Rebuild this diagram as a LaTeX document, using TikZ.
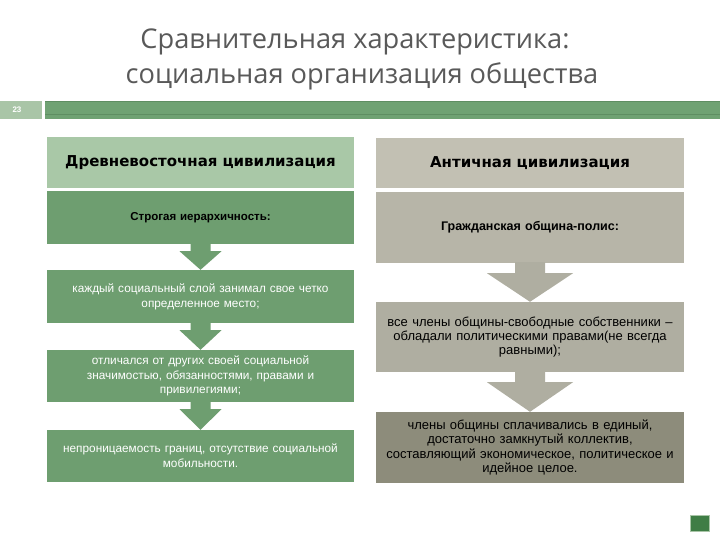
\documentclass[tikz,border=0pt]{standalone}
\usepackage{fontspec}
\setmainfont{Liberation Sans}
\newfontfamily\titlefont{Open Sans}
\newfontfamily\headfont{DejaVu Sans}
\usetikzlibrary{calc}
\definecolor{titlegrey}{HTML}{595959}
\definecolor{barlight}{HTML}{A9C5A7}
\definecolor{bargreen}{HTML}{6FA273}
\definecolor{bardark}{HTML}{5E8E62}
\definecolor{lhead}{HTML}{A9C8A7}
\definecolor{lbox}{HTML}{6E9E70}
\definecolor{rhead}{HTML}{C2C0B3}
\definecolor{rboxa}{HTML}{B7B5A8}
\definecolor{rboxb}{HTML}{AFAEA1}
\definecolor{rboxc}{HTML}{8D8C7B}
\definecolor{rarrow}{HTML}{AFAEA1}
\definecolor{icongreen}{HTML}{3F7D45}
\tikzset{
  colbox/.style={rectangle, inner sep=2pt, align=center, text width=300pt},
  lcol/.style={colbox, minimum width=307pt, fill=lbox, text=white, font=\fontsize{11.8}{14.8}\selectfont},
  rcol/.style={colbox, minimum width=308pt, font=\fontsize{13}{14.2}\selectfont},
  headtext/.style={font=\headfont\bfseries\fontsize{15}{18}\selectfont},
  titletext/.style={text=titlegrey, font=\titlefont\fontsize{27.2}{32}\selectfont, anchor=base, inner sep=0pt},
  larrowfill/.style={fill=lbox},
  rarrowfill/.style={fill=rarrow}
}
\newcommand\leftarr[2]{%
  \fill[larrowfill] ($(#1.south)+(-10,-1)$) -- ($(#1.south)+(-10,7)$) -- ($(#1.south)+(-21,7)$) -- (#2.north)
    -- ($(#1.south)+(21,7)$) -- ($(#1.south)+(10,7)$) -- ($(#1.south)+(10,-1)$) -- cycle;}
\newcommand\rightarr[2]{%
  \fill[rarrowfill] ($(#1.south)+(-15,-1)$) -- ($(#1.south)+(-15,10)$) -- ($(#1.south)+(-43,10)$) -- (#2.north)
    -- ($(#1.south)+(43,10)$) -- ($(#1.south)+(15,10)$) -- ($(#1.south)+(15,-1)$) -- cycle;}
\begin{document}
\begin{tikzpicture}[x=1pt,y=-1pt]
\useasboundingbox[fill=white] (0,0) rectangle (720,540);
% title
\node[titletext] (t1) at (355,49) {Сравнительная характеристика:};
\node[titletext] (t2) at (362,84) {социальная организация общества};
% bar
\fill[barlight] (0,101) rectangle (42,119);
\node[text=white, font=\fontsize{8}{9}\selectfont\bfseries, inner sep=0pt] (num) at (17,110) {23};
\fill[bargreen] (45,101) rectangle (720,119);
\draw[bardark, line width=0.8pt] (45,101.5) -- (720,101.5);
\draw[bardark, line width=0.6pt] (45,114) -- (720,114);
% left column
\node[colbox, minimum width=307pt, minimum height=51pt, fill=lhead, headtext] (lh) at (200.5,162.5) {Древневосточная цивилизация};
\node[lcol, minimum height=53pt, text=black, font=\bfseries\fontsize{11.5}{14}\selectfont] (l1) at (200.5,217.5) {Строгая иерархичность:};
\node[lcol, minimum height=53pt] (l2) at (200.5,296.5) {каждый социальный слой занимал свое четко\\определенное место;};
\node[lcol, minimum height=52pt] (l3) at (200.5,376) {отличался от других своей социальной\\значимостью, обязанностями, правами и\\привилегиями;};
\node[lcol, minimum height=52pt] (l4) at (200.5,456) {непроницаемость границ, отсутствие социальной\\мобильности.};
\leftarr{l1}{l2}
\leftarr{l2}{l3}
\leftarr{l3}{l4}
% right column
\node[colbox, minimum width=308pt, minimum height=50pt, fill=rhead, headtext] (rh) at (530,163) {Античная цивилизация};
\node[rcol, minimum height=71pt, fill=rboxa, font=\bfseries\fontsize{12.5}{14}\selectfont] (r1) at (530,227.5) {Гражданская община-полис:};
\node[rcol, minimum height=70pt, fill=rboxb] (r2) at (530,337) {все члены общины-свободные собственники –\\обладали политическими правами(не всегда\\равными);};
\node[rcol, minimum height=71pt, fill=rboxc] (r3) at (530,447.5) {члены  общины сплачивались в единый,\\достаточно замкнутый коллектив,\\составляющий экономическое, политическое и\\идейное целое.};
\rightarr{r1}{r2}
\rightarr{r2}{r3}
% nav icon
\node[rectangle, fill=icongreen, draw=barlight, line width=0.8pt, minimum width=19pt, minimum height=16pt, inner sep=0pt] (icon) at (700,523.5) {};
\end{tikzpicture}
\end{document}
